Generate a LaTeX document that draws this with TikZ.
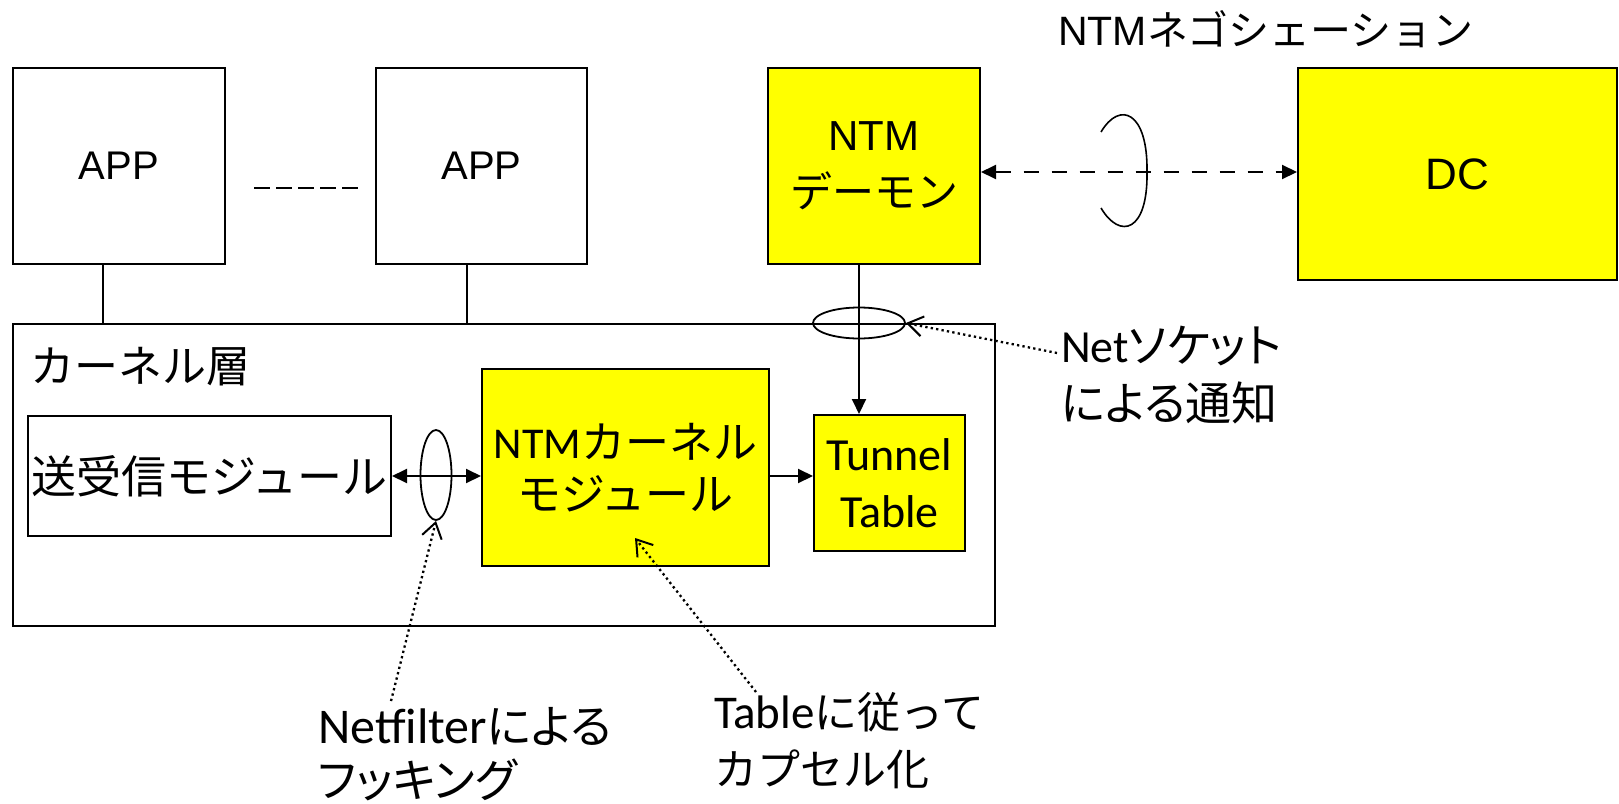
\documentclass[tikz,border=0pt]{standalone}
\usepackage{fontspec}
\setmainfont{Liberation Sans}
\newfontfamily\jpfont{Noto Sans CJK JP}
\newfontfamily\jppfont[RawFeature=+palt]{Noto Sans CJK JP}
\newfontfamily\calfont{Carlito}
\usetikzlibrary{arrows.meta,shapes.geometric}
\definecolor{boxyellow}{RGB}{255,255,0}
% two left-aligned lines whose baseline is that of the first line
\newcommand\twoline[2]{\vtop{\hbox{#1}\hbox{#2}}}

\begin{document}
\begin{tikzpicture}[x=1pt,y=-1pt,
  box/.style={draw=black, line width=2pt, inner sep=0pt, anchor=north west, align=center},
  ybox/.style={box, fill=boxyellow},
  conn/.style={line width=1.8pt},
  arr/.style={line width=2pt, -{Triangle[length=15pt,width=14pt]}},
  darr/.style={line width=2pt, {Triangle[length=15pt,width=14pt]}-{Triangle[length=15pt,width=14pt]}},
  dashdarr/.style={darr, dash pattern=on 15pt off 13pt},
  dotarr/.style={line width=2.3pt, dash pattern=on 2.3pt off 3.2pt,
    -{Straight Barb[length=15pt,width=20pt,line width=2pt]}},
  ring/.style={draw, ellipse, line width=1.8pt, inner sep=0pt},
  lbl/.style={inner sep=0pt, anchor=base west},
]
\useasboundingbox (0,0) rectangle (1619,803);

% user space
\node[box, minimum width=212pt, minimum height=196pt,
      font=\fontsize{40pt}{48pt}\selectfont] (app1) at (12,67) {APP};
\node[box, minimum width=211pt, minimum height=196pt,
      font=\fontsize{40pt}{48pt}\selectfont] (app2) at (375,67) {APP};
\node[ybox, minimum width=212pt, minimum height=196pt,
      font=\fontsize{42pt}{57pt}\selectfont] (daemon) at (767,67) {NTM\\{\jpfont デーモン}};
\node[ybox, minimum width=319pt, minimum height=212pt,
      font=\fontsize{44pt}{52pt}\selectfont] (dc) at (1297,67) {DC};

% kernel space
\node[box, minimum width=982pt, minimum height=302pt] (kernel) at (12,323) {};
\node[lbl, font=\fontsize{44pt}{52pt}\selectfont\jpfont] (klabel) at (30,382) {カーネル層};
\node[box, minimum width=363pt, minimum height=120pt,
      font=\fontsize{45pt}{52pt}\selectfont\jpfont] (sr) at (27,415) {送受信モジュール};
\node[ybox, minimum width=287pt, minimum height=197pt,
      font=\fontsize{44pt}{52pt}\selectfont] (ntmk) at (481,368)
      {{\calfont NTM}{\jpfont カーネル}\\{\jpfont モジュール}};
\node[ybox, minimum width=151pt, minimum height=136pt,
      font=\fontsize{46pt}{57pt}\selectfont\calfont] (tunnel) at (813,414) {Tunnel\\Table};

% free labels
\node[lbl, font=\fontsize{41pt}{50pt}\selectfont] (nego) at (1058,45)
      {NTM{\jpfont ネゴシェーション}};
\node[lbl, font=\fontsize{46pt}{58pt}\selectfont\calfont] (socktxt) at (1061,362)
      {\twoline{Net{\jppfont ソケット}}{\jppfont による通知}};
\node[lbl, font=\fontsize{50pt}{54pt}\selectfont\calfont] (hooktxt) at (318,743)
      {\twoline{Netfilter{\fontsize{46pt}{54pt}\selectfont\jppfont による}}{\fontsize{46pt}{54pt}\selectfont\jppfont フッキング}};
\node[lbl, font=\fontsize{47pt}{57pt}\selectfont\calfont] (encaptxt) at (714,728)
      {\twoline{Table{\fontsize{43pt}{57pt}\selectfont\jpfont に従って}}{\fontsize{43pt}{57pt}\selectfont\jpfont カプセル化}};

% helper positions
\coordinate (xa) at (103,0);
\coordinate (xb) at (467,0);
\coordinate (xd) at (859,0);
\coordinate (yd) at (0,172);
\coordinate (yk) at (0,476);
\coordinate (gapA) at (254,188);
\coordinate (gapB) at (358,188);
\coordinate (sockfrom) at (1057,353);
\coordinate (hookfrom) at (391,701);
\coordinate (encapfrom) at (756,692);
\coordinate (encapto) at (635,538);

% links between applications and the kernel
\draw[line width=2.5pt, dash pattern=on 15.5pt off 6.6pt] (gapA) -- (gapB);
\draw[conn] (app1.south -| xa) -- (kernel.north -| xa);
\draw[conn] (app2.south -| xb) -- (kernel.north -| xb);

% daemon to tunnel table, through the netlink socket
\draw[arr] (daemon.south -| xd) -- (tunnel.north -| xd);
\node[ring, minimum width=92pt, minimum height=31pt] (sock) at (859,323) {};

% negotiation with the DC
\draw[dashdarr] (daemon.east |- yd) -- (dc.west |- yd);
\draw[line width=1.6pt] (1101,132) .. controls (1120,100) and (1148,112) .. (1147,172)
  .. controls (1148,232) and (1120,240) .. (1101,208);

% packet path inside the kernel
\draw[darr] (sr.east) -- (sr.east -| ntmk.west);
\node[ring, minimum width=31pt, minimum height=90pt] (hook) at (436,475) {};
\draw[arr] (ntmk.east |- yk) -- (tunnel.west |- yk);

% annotations
\draw[dotarr] (sockfrom) -- (sock.east);
\draw[dotarr] (hookfrom) -- (hook.south);
\draw[dotarr] (encapfrom) -- (encapto);
\end{tikzpicture}
\end{document}
